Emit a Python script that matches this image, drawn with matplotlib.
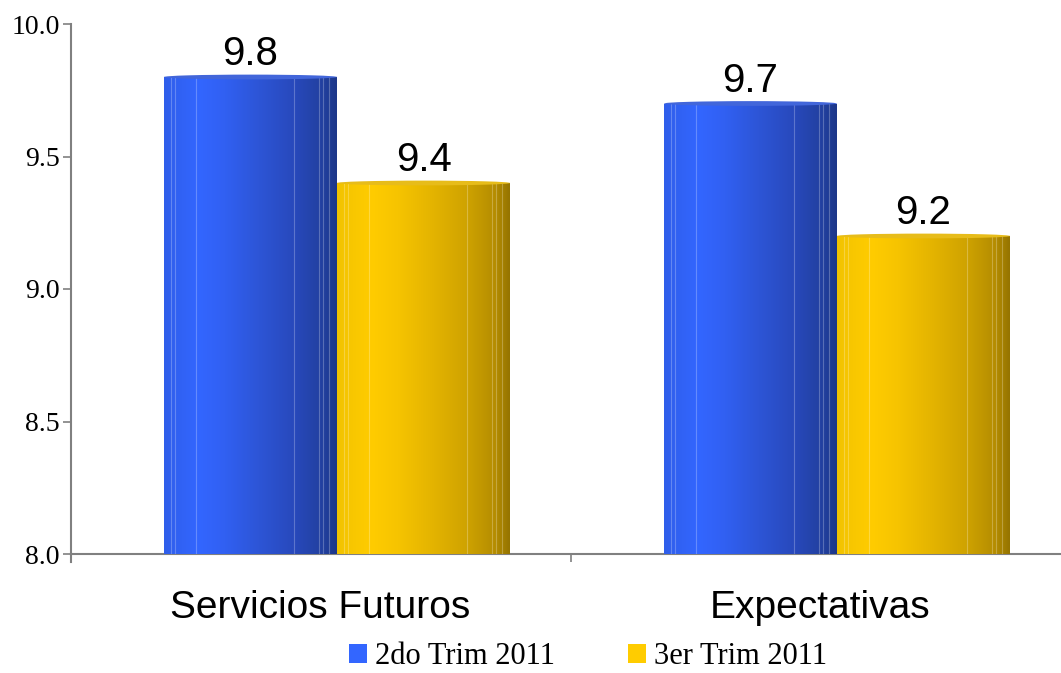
import numpy as np
import matplotlib
matplotlib.use("Agg")
import matplotlib.pyplot as plt
from matplotlib.colors import LinearSegmentedColormap, to_rgb
from matplotlib.patches import Ellipse, Patch
from matplotlib.transforms import ScaledTranslation

# Data
categories = ["Servicios Futuros", "Expectativas"]
series_names = ["2do Trim 2011", "3er Trim 2011"]
q2_values = [9.8, 9.7]
q3_values = [9.4, 9.2]
y_ticks = [8.0, 8.5, 9.0, 9.5, 10.0]

base_colors = ["#3366FF", "#FFCC00"]
shades = [
    ["#2F5EEA", "#3366FF", "#3160F2", "#2D55D6", "#2849BC", "#22409F", "#1D3789"],
    ["#F2C300", "#FFCC00", "#F6C400", "#E4B400", "#CFA300", "#B48C00", "#957400"],
]
stops = [0.0, 0.2, 0.35, 0.55, 0.75, 0.92, 1.0]

fig = plt.figure(figsize=(10.61, 6.73), dpi=100)
W, H = 1061, 673
ax = fig.add_axes([71 / W, (673 - 554) / H, (1061 - 71) / W, (554 - 24) / H])

x = np.arange(len(categories))
bw = 0.346
ax.set_xlim(-0.532, 1.448)
ax.set_ylim(8.0, 10.0)

facet_lines = [0.039, 0.064, 0.185, 0.749, 0.894, 0.919, 0.952]
grad = np.linspace(0, 1, 256).reshape(1, -1)

for k, (vals, off) in enumerate([(q2_values, -bw / 2), (q3_values, bw / 2)]):
    cmap = LinearSegmentedColormap.from_list(f"cyl{k}", list(zip(stops, shades[k])))
    bars = ax.bar(x + off, np.array(vals) - 8.0, bottom=8.0, width=bw,
                  color=base_colors[k], edgecolor="none", zorder=2)
    for b, v in zip(bars, vals):
        x0, x1 = b.get_x(), b.get_x() + b.get_width()
        im = ax.imshow(grad, cmap=cmap, aspect="auto",
                       extent=[x0, x1, 8.0, v], zorder=3)
        im.set_clip_path(b)
        for f in facet_lines:
            xx = x0 + f * (x1 - x0)
            ax.plot([xx, xx], [8.0, v], color="white", lw=0.8, alpha=0.25, zorder=4)
        top_col = np.array(to_rgb(shades[k][3])) * 0.9 + 0.1
        ax.add_patch(Ellipse(((x0 + x1) / 2, v), x1 - x0, 0.018,
                             facecolor=top_col, edgecolor="none", zorder=5))
        ax.text((x0 + x1) / 2, v + 0.045, f"{v:.1f}", ha="center", va="baseline",
                fontsize=29, family="Liberation Sans", color="black", zorder=6)

# Axes styling
for s in ["top", "right"]:
    ax.spines[s].set_visible(False)
for s in ["left", "bottom"]:
    ax.spines[s].set_color("#808080")
    ax.spines[s].set_linewidth(1.5)
ax.plot([0, 0], [0, -8 / 530], transform=ax.transAxes, color="#808080",
        lw=1.5, clip_on=False)

ax.set_yticks(y_ticks)
ax.set_yticklabels([f"{t:.1f}" for t in y_ticks], family="Liberation Serif", fontsize=20)
ax.tick_params(axis="y", length=6, width=1.2, color="#808080", pad=2)

ax.set_xticks(x)
ax.set_xticklabels(categories, fontsize=28, family="Liberation Sans")
ax.tick_params(axis="x", which="major", length=0, pad=26)
shift = ScaledTranslation(-17 / 100, 0, fig.dpi_scale_trans)
for lbl in ax.get_xticklabels():
    lbl.set_transform(lbl.get_transform() + shift)
ax.set_xticks([0.468], minor=True)
ax.tick_params(axis="x", which="minor", length=6, width=1.2, color="#808080")

handles = [Patch(facecolor=c, edgecolor="none") for c in base_colors]
fig.legend(handles, series_names, loc="center", bbox_to_anchor=(588 / W, 1 - 657 / H),
           ncol=2, frameon=False, prop={"family": "Liberation Serif", "size": 22},
           handlelength=0.6, handleheight=0.6, handletextpad=0.25,
           columnspacing=2.4, borderpad=0.1)

fig.savefig("out.png", dpi=100)
